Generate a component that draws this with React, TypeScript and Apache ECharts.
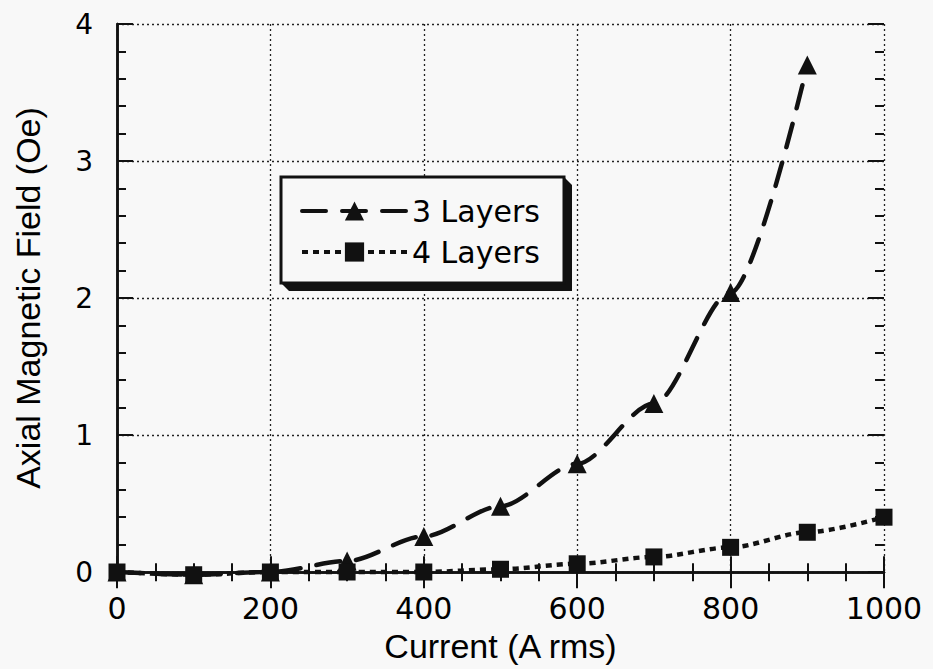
import React, { useEffect, useRef } from "react";
import * as echarts from "echarts";

const currents = [0, 100, 200, 300, 400, 500, 600, 700, 800, 900, 1000];
const layers3 = [0, -0.02, 0, 0.08, 0.26, 0.48, 0.79, 1.23, 2.04, 3.7, null];
const layers4 = [0, -0.02, 0, 0, 0, 0.02, 0.06, 0.11, 0.18, 0.29, 0.4];
const seriesNames = ["3 Layers", "4 Layers"];
const xTitle = "Current (A rms)";
const yTitle = "Axial Magnetic Field (Oe)";

const BLACK = "#111";
const TICK_FONT = "DejaVu Sans";
const TITLE_FONT = "Liberation Sans";

export default function App() {
  const ref = useRef<HTMLDivElement>(null);
  useEffect(() => {
    if (!ref.current) return;
    const chart = echarts.init(ref.current, null, { renderer: "svg" });
    const frameLine = { show: true, lineStyle: { color: BLACK, width: 2.5 } };
    const majorTick = { show: true, inside: true, length: 16, lineStyle: { color: BLACK, width: 2 } };
    const dotted = { show: true, lineStyle: { color: "#222", width: 1.3, type: [2, 3] as any } };
    const pair = (vals: (number | null)[]) =>
      currents.map((c, i) => (vals[i] === null ? null : [c, vals[i]])).filter((d) => d !== null);
    const plain = (v: number) => String(v);

    chart.setOption({
      animation: false,
      backgroundColor: "#f8f8f8",
      grid: [
        { left: 117, right: 49, top: 24, bottom: 90 },
        { left: 117, right: 49, top: 24, bottom: 97 },
      ],
      xAxis: [
        {
          type: "value", gridIndex: 0, position: "bottom", min: 0, max: 1000, interval: 200,
          axisLine: frameLine, axisTick: majorTick,
          minorTick: { show: true, splitNumber: 4, length: 9, lineStyle: { color: BLACK, width: 2 } },
          axisLabel: { show: true, fontFamily: TICK_FONT, fontSize: 30, color: "#000", margin: 14, formatter: plain },
          splitLine: { show: false },
          name: xTitle, nameLocation: "middle", nameGap: 50,
          nameTextStyle: { fontFamily: TITLE_FONT, fontSize: 34, color: "#000" },
        },
        {
          type: "value", gridIndex: 0, position: "top", min: 0, max: 1000, interval: 200,
          axisLine: frameLine, axisTick: majorTick,
          minorTick: { show: true, splitNumber: 4, length: 9, lineStyle: { color: BLACK, width: 2 } },
          axisLabel: { show: false }, splitLine: { show: false },
        },
        {
          type: "value", gridIndex: 1, position: "bottom", min: 0, max: 1000, interval: 200,
          axisLine: { show: false }, axisTick: { show: false }, axisLabel: { show: false },
          splitLine: dotted,
        },
      ],
      yAxis: [
        {
          type: "value", gridIndex: 0, position: "left", min: -0.05, max: 4,
          axisLine: frameLine, axisTick: { show: false }, axisLabel: { show: false }, splitLine: { show: false },
        },
        {
          type: "value", gridIndex: 0, position: "right", min: -0.05, max: 4,
          axisLine: frameLine, axisTick: { show: false }, axisLabel: { show: false }, splitLine: { show: false },
        },
        {
          type: "value", gridIndex: 1, position: "left", min: 0, max: 4, interval: 1,
          axisLine: { show: false }, axisTick: majorTick,
          minorTick: { show: true, splitNumber: 5, length: 9, lineStyle: { color: BLACK, width: 2 } },
          axisLabel: { show: true, fontFamily: TICK_FONT, fontSize: 28, color: "#000", margin: 24, formatter: plain },
          splitLine: dotted,
          name: yTitle, nameLocation: "middle", nameGap: 72,
          nameTextStyle: { fontFamily: TITLE_FONT, fontSize: 34, color: "#000" },
        },
        {
          type: "value", gridIndex: 1, position: "right", min: 0, max: 4, interval: 1,
          axisLine: { show: false }, axisTick: majorTick,
          minorTick: { show: true, splitNumber: 5, length: 9, lineStyle: { color: BLACK, width: 2 } },
          axisLabel: { show: false }, splitLine: { show: false },
        },
      ],
      legend: {
        orient: "vertical", left: 300, top: 196, z: 10,
        itemWidth: 105, itemHeight: 24, itemGap: 11, padding: 0,
        textStyle: { fontFamily: TICK_FONT, fontSize: 30, color: "#000", padding: [0, 0, 0, 0] },
        lineStyle: { width: 4 },
        data: seriesNames,
      },
      graphic: [
        {
          type: "polygon", z: 5,
          shape: { points: [[281, 283], [289, 291], [572, 291], [572, 185], [564, 177]] },
          style: { fill: BLACK },
        },
        {
          type: "rect", z: 6,
          shape: { x: 281, y: 177, width: 283, height: 106 },
          style: { fill: "#f8f8f8", stroke: BLACK, lineWidth: 3 },
        },
      ],
      series: [
        {
          name: seriesNames[0], type: "line", xAxisIndex: 2, yAxisIndex: 2,
          data: pair(layers3), smooth: 0.3, smoothMonotone: "x", clip: false,
          symbol: "triangle", symbolSize: 19, showAllSymbol: true,
          itemStyle: { color: BLACK },
          lineStyle: { color: BLACK, width: 4.5, type: [24, 16] as any, cap: "round" },
          z: 3,
        },
        {
          name: seriesNames[1], type: "line", xAxisIndex: 2, yAxisIndex: 2,
          data: pair(layers4), smooth: 0.3, smoothMonotone: "x", clip: false,
          symbol: "rect", symbolSize: 17, showAllSymbol: true,
          itemStyle: { color: BLACK },
          lineStyle: { color: BLACK, width: 4.5, type: [6, 5] as any },
          z: 4,
        },
      ],
    });
    return () => chart.dispose();
  }, []);
  return (
    <div
      ref={ref}
      style={{ position: "fixed", left: 0, top: 0, width: 933, height: 669, background: "#f8f8f8" }}
    />
  );
}
